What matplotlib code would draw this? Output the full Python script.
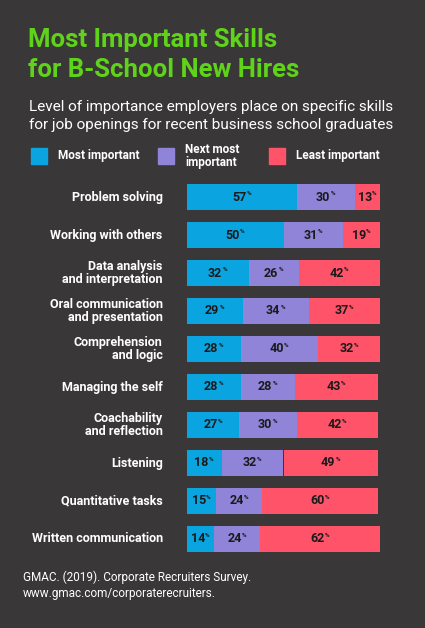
import matplotlib.pyplot as plt
import numpy as np

skills = ["Problem solving", "Working with others", "Data analysis\nand interpretation",
          "Oral communication\nand presentation", "Comprehension\nand logic",
          "Managing the self", "Coachability\nand reflection", "Listening",
          "Quantitative tasks", "Written communication"]
most = [57, 50, 32, 29, 28, 28, 27, 18, 15, 14]
next_most = [30, 31, 26, 34, 40, 28, 30, 32, 24, 24]
least = [13, 19, 42, 37, 32, 43, 42, 49, 60, 62]
series_names = ["Most important", "Next most\nimportant", "Least important"]

bg = "#3a3738"
colors = ["#0aa5e0", "#8f84d8", "#ff5369"]
green = "#5fd319"
plt.rcParams['font.family'] = ['Roboto', 'DejaVu Sans']

W, H = 425, 628
fig = plt.figure(figsize=(W / 100, H / 100), dpi=100, facecolor=bg)

def fx(px):
    return px / W

def fy(py):
    return 1 - py / H

# titles
fig.text(fx(28), fy(40), "Most Important Skills", color=green, fontsize=18.5,
         fontweight="bold", va="center", ha="left")
fig.text(fx(28), fy(70), "for B-School New Hires", color=green, fontsize=18.5,
         fontweight="bold", va="center", ha="left")
fig.text(fx(29), fy(107), "Level of importance employers place on specific skills",
         color="white", fontsize=11, va="center", ha="left")
fig.text(fx(29), fy(125), "for job openings for recent business school graduates",
         color="white", fontsize=11, va="center", ha="left")

# legend
leg_x = [31, 158, 269]
for i, name in enumerate(series_names):
    fig.patches.append(plt.Rectangle((fx(leg_x[i]), fy(164)), fx(16), 16 / H,
                                     transform=fig.transFigure, color=colors[i]))
    fig.text(fx(leg_x[i] + 27), fy(156), name, color="white", fontsize=8.5,
             fontweight="bold", va="center", ha="left", linespacing=1.0)

# bars
ax = fig.add_axes([fx(187), fy(558), fx(193), 380 / H])
ax.set_facecolor(bg)
y = np.arange(len(skills))
left = np.zeros(len(skills))
for vals, c in zip([most, next_most, least], colors):
    vals = np.array(vals)
    ax.barh(y, vals, left=left, height=0.68, color=c, linewidth=0)
    for yi, l, v in zip(y, left, vals):
        cx = l + v / 2
        ax.annotate(str(v), (cx, yi), xytext=(-2, 0), textcoords="offset points",
                    ha="center", va="center", fontsize=9, fontweight="bold",
                    color="#1a1a1a")
        ax.annotate("%", (cx, yi), xytext=(3.3, 2.5), textcoords="offset points",
                    ha="left", va="center", fontsize=4.5, fontweight="bold",
                    color="#1a1a1a")
    left += vals

ax.set_xlim(0, 100)
ax.set_ylim(len(skills) - 0.5, -0.5)
ax.axis("off")

for yi, s in zip(y, skills):
    ax.annotate(s, (0, yi), xytext=(-17.5, 0), textcoords="offset points",
                ha="right", va="center", fontsize=9, fontweight="bold",
                color="white", linespacing=1.05, annotation_clip=False)

fig.text(fx(23), fy(577), "GMAC. (2019). Corporate Recruiters Survey.",
         color="white", fontsize=8.5, va="center", ha="left")
fig.text(fx(23), fy(593), "www.gmac.com/corporaterecruiters.",
         color="white", fontsize=8.5, va="center", ha="left")

fig.savefig("out.png", dpi=100, facecolor=bg)
